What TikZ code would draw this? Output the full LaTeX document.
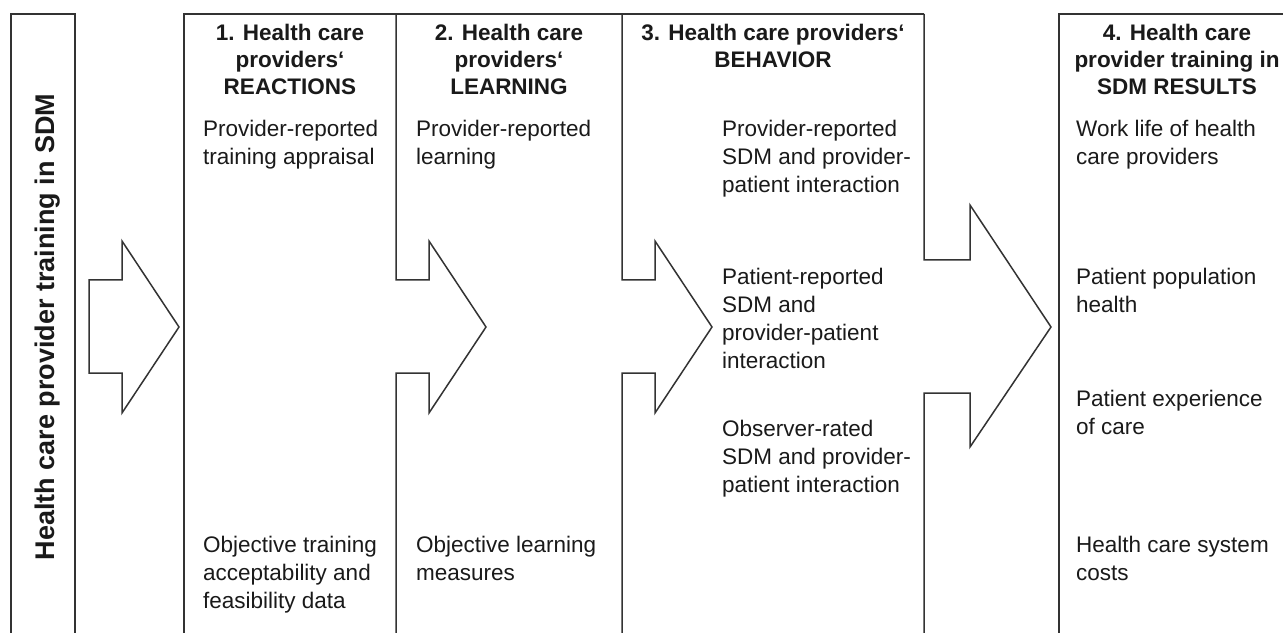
\documentclass[tikz,border=0pt]{standalone}
\usepackage{fontspec}
\setmainfont{Liberation Sans}
\definecolor{linecol}{HTML}{333333}
\definecolor{textcol}{HTML}{1A1A1A}
\newcommand{\lines}[2][l]{\begin{tabular}[t]{@{}#1@{}}#2\end{tabular}}
\tikzset{
  frame/.style={draw=linecol, line width=1.5bp, line join=miter},
  body/.style={anchor=base west, inner sep=0pt, text=textcol,
    font=\fontsize{22.5bp}{28bp}\selectfont},
  head/.style={anchor=base, inner sep=0pt, text=textcol,
    font=\fontsize{22.5bp}{27bp}\selectfont\bfseries},
}
\begin{document}
\begin{tikzpicture}[x=1bp, y=-1bp]
\clip (0,0) rectangle (1283,633);
\fill[white] (0,0) rectangle (1283,633);

% left title column
\draw[frame] (11,640) -- (11,14) -- (75,14) -- (75,640);
\node[anchor=base, inner sep=0pt, rotate=90, text=textcol,
  font=\fontsize{27bp}{32bp}\selectfont\bfseries] (title) at (54.5,327)
  {Health care provider training in SDM};

% entry arrow
\draw[frame] (89,280) -- (122,280) -- (122,241) -- (179,327) -- (122,413)
  -- (122,373) -- (89,373) -- cycle;

% column frames with arrow-shaped borders
\draw[frame] (184,640) -- (184,14) -- (924,14);
\draw[frame] (396,14) -- (396,280) -- (429,280) -- (429,241) -- (486,327)
  -- (429,413) -- (429,373) -- (396,373) -- (396,640);
\draw[frame] (622,14) -- (622,280) -- (655,280) -- (655,241) -- (712,327)
  -- (655,413) -- (655,373) -- (622,373) -- (622,640);
\draw[frame] (924,14) -- (924,260) -- (970,260) -- (970,205) -- (1051,327)
  -- (970,447) -- (970,393) -- (924,393) -- (924,640);
\draw[frame] (1059,640) -- (1059,14) -- (1300,14);

% headings
\node[head] (h1) at (290,41) {\lines[c]{1. Health care\\providers‘\\REACTIONS}};
\node[head] (h2) at (509,41) {\lines[c]{2. Health care\\providers‘\\LEARNING}};
\node[head] (h3) at (773,41) {\lines[c]{3. Health care providers‘\\BEHAVIOR}};
\node[head] (h4) at (1177,41) {\lines[c]{4. Health care\\provider training in\\SDM RESULTS}};

% column 1
\node[body] (r1) at (203,137) {\lines{Provider-reported\\training appraisal}};
\node[body] (r2) at (203,552) {\lines{Objective training\\acceptability and\\feasibility data}};
% column 2
\node[body] (l1) at (416,137) {\lines{Provider-reported\\learning}};
\node[body] (l2) at (416,552) {\lines{Objective learning\\measures}};
% column 3
\node[body] (b1) at (722,137) {\lines{Provider-reported\\SDM and provider-\\patient interaction}};
\node[body] (b2) at (722,285) {\lines{Patient-reported\\SDM and\\provider-patient\\interaction}};
\node[body] (b3) at (722,436) {\lines{Observer-rated\\SDM and provider-\\patient interaction}};
% column 4
\node[body] (o1) at (1076,137) {\lines{Work life of health\\care providers}};
\node[body] (o2) at (1076,285) {\lines{Patient population\\health}};
\node[body] (o3) at (1076,406) {\lines{Patient experience\\of care}};
\node[body] (o4) at (1076,552) {\lines{Health care system\\costs}};
\end{tikzpicture}
\end{document}
